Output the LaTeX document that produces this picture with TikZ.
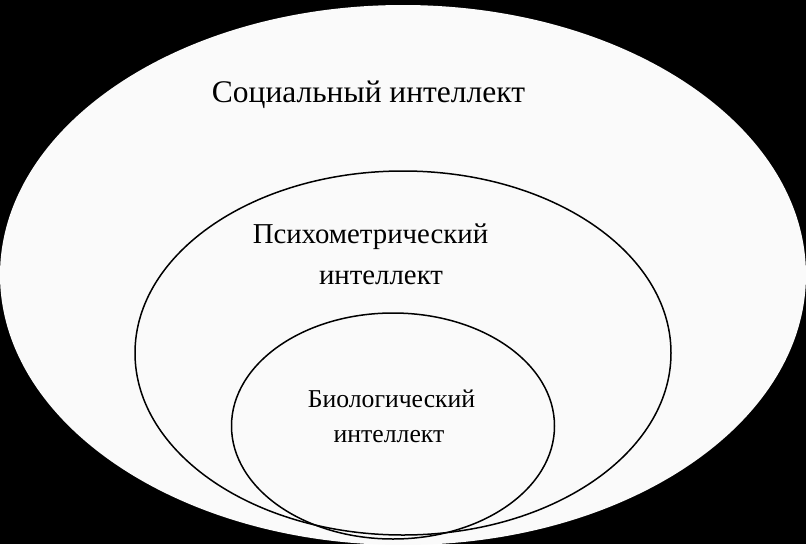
\documentclass[tikz,border=0pt]{standalone}
\usepackage{fontspec}
\setmainfont{Liberation Serif}
\tikzset{
  lbl/.style={anchor=base, inner sep=0pt, text=black},
  ring/.style={draw=black, line width=1.5pt},
}
\begin{document}
\begin{tikzpicture}[x=1pt,y=-1pt]
\fill[black] (0,0) rectangle (806,544);
\useasboundingbox (0,0) rectangle (806,544);
\begin{scope}
\clip (0,0) rectangle (806,544);
\fill[white!98!black] (403,275) ellipse [x radius=403, y radius=270];
\begin{scope}
\clip (403,275) ellipse [x radius=403, y radius=270];
\draw[ring] (403,353) ellipse [x radius=268, y radius=182];
\draw[ring] (393,426) ellipse [x radius=161.5, y radius=113];
\end{scope}
\end{scope}
\node[lbl, font=\fontsize{31.5}{36}\selectfont] (soc) at (368.5,102) {Социальный интеллект};
\node[lbl, font=\fontsize{28.8}{33}\selectfont] (psy1) at (370.5,243) {Психометрический};
\node[lbl, font=\fontsize{28.8}{33}\selectfont] (psy2) at (381,284) {интеллект};
\node[lbl, font=\fontsize{25.7}{30}\selectfont] (bio1) at (391.5,407) {Биологический};
\node[lbl, font=\fontsize{25.7}{30}\selectfont] (bio2) at (389,442) {интеллект};
\end{tikzpicture}
\end{document}
